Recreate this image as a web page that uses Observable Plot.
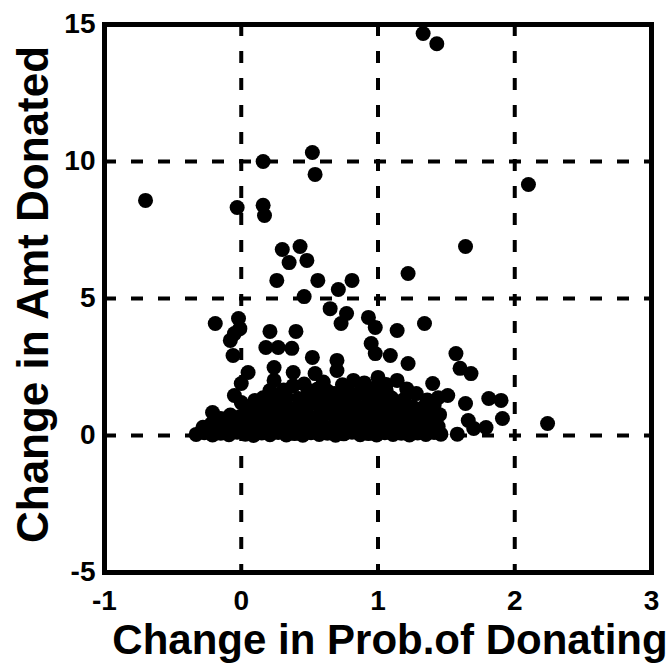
<!DOCTYPE html>
<html>
<head>
<meta charset="utf-8">
<script src="https://cdn.jsdelivr.net/npm/d3@7"></script>
<script src="https://cdn.jsdelivr.net/npm/@observablehq/plot@0.6"></script>
<style>
  html, body { margin: 0; padding: 0; background: white; }
</style>
</head>
<body>
<div id="chart"></div>
<script>
// Tick values and labels
const xTicks = [-1, 0, 1, 2, 3];
const yTicks = [-5, 0, 5, 10, 15];
const xGrid = [0, 1, 2];
const yGrid = [0, 5, 10];
const xTitle = "Change in Prob.of Donating";
const yTitle = "Change in Amt Donated";

// Scattered points [change in prob, change in amount]
const scattered = [
  [-0.70, 8.58], [-0.03, 8.32], [0.16, 8.40], [0.17, 8.03], [0.16, 10.0],
  [0.52, 10.33], [0.54, 9.53], [0.30, 6.79], [0.43, 6.90], [0.35, 6.31],
  [0.48, 6.39], [0.26, 5.66], [0.56, 5.66], [0.81, 5.66], [0.71, 5.33],
  [0.46, 5.07], [0.65, 4.63], [0.77, 4.45], [0.73, 4.09], [0.93, 4.31],
  [-0.19, 4.09], [-0.02, 4.27], [-0.01, 3.90], [0.21, 3.80], [0.40, 3.80],
  [0.98, 3.94], [1.33, 14.67], [1.43, 14.30], [2.10, 9.16], [1.64, 6.90],
  [1.22, 5.91], [1.34, 4.09], [1.14, 3.83], [1.57, 2.99], [1.60, 2.45],
  [1.68, 2.26], [1.64, 1.17], [1.66, 0.55], [1.81, 1.35], [1.90, 1.28],
  [1.91, 0.62], [2.24, 0.44], [1.79, 0.29], [1.70, 0.26], [1.58, 0.05],
  [-0.05, 3.72], [-0.08, 3.47], [-0.06, 2.92], [0.18, 3.21], [0.27, 3.21],
  [0.37, 3.18], [0.52, 2.85], [0.70, 2.74], [0.05, 2.30], [0.24, 2.48],
  [0.24, 2.01], [0.38, 2.30], [0.54, 2.26], [0.38, 1.82], [0.00, 1.90],
  [-0.05, 1.46], [0.00, 1.20], [0.10, 1.28], [0.21, 1.64], [0.49, 1.64],
  [-0.21, 0.84], [-0.15, 0.62], [0.08, 0.66], [-0.28, 0.18],
  [0.95, 3.36], [0.98, 2.99], [1.09, 2.92], [1.22, 2.63], [0.70, 2.37],
  [0.82, 2.01], [1.00, 2.12], [1.14, 2.01], [1.40, 1.90], [1.51, 1.46],
  [1.28, 1.53], [0.68, 1.53], [0.78, 1.64]
];

// Dense cluster near zero
const cluster = [
  [-0.33,0.04],[-0.27,0.10],[-0.21,0.02],[-0.15,0.08],[-0.09,0.03],[-0.03,0.12],[0.03,0.05],[0.09,0.00],
  [0.15,0.09],[0.21,0.03],[0.27,0.11],[0.33,0.02],[0.39,0.07],[0.45,0.01],[0.51,0.10],[0.57,0.04],
  [0.63,0.08],[0.69,0.01],[0.75,0.06],[0.81,0.12],[0.87,0.03],[0.93,0.07],[0.99,0.02],[1.05,0.10],
  [1.11,0.04],[1.17,0.08],[1.23,0.02],[1.29,0.09],[1.35,0.04],[1.41,0.11],[1.46,0.05],
  [-0.28,0.30],[-0.22,0.42],[-0.16,0.33],[-0.09,0.40],[-0.02,0.35],[0.05,0.44],[0.12,0.31],[0.19,0.39],
  [0.26,0.46],[0.33,0.34],[0.40,0.41],[0.47,0.36],[0.54,0.45],[0.61,0.32],[0.68,0.40],[0.75,0.37],
  [0.82,0.44],[0.89,0.33],[0.96,0.41],[1.03,0.36],[1.10,0.45],[1.17,0.34],[1.24,0.40],[1.31,0.37],
  [1.38,0.43],[1.44,0.33],
  [-0.08,0.75],[-0.01,0.68],[0.06,0.78],[0.13,0.70],[0.20,0.76],[0.27,0.67],[0.34,0.79],[0.41,0.71],
  [0.48,0.74],[0.55,0.66],[0.62,0.80],[0.69,0.70],[0.76,0.77],[0.83,0.68],[0.90,0.75],[0.97,0.72],
  [1.04,0.79],[1.11,0.69],[1.18,0.76],[1.25,0.71],[1.32,0.78],[1.39,0.70],[1.45,0.76],
  [0.04,1.00],[0.12,1.08],[0.20,1.02],[0.28,1.10],[0.35,0.99],[0.43,1.06],[0.50,1.12],[0.58,1.01],
  [0.65,1.08],[0.73,1.03],[0.80,1.11],[0.88,1.00],[0.95,1.07],[1.03,1.04],[1.10,1.10],[1.18,0.99],
  [1.25,1.06],[1.33,1.02],[1.41,1.09],
  [0.16,1.38],[0.25,1.32],[0.33,1.40],[0.42,1.35],[0.50,1.42],[0.59,1.33],[0.67,1.39],[0.76,1.36],
  [0.84,1.43],[0.93,1.34],[1.01,1.40],[1.10,1.37],[1.19,1.31],[1.36,1.30],[1.44,1.38],
  [0.31,1.66],[0.56,1.70],[0.63,1.62],[0.88,1.68],[0.97,1.72],[1.06,1.63],[1.21,1.70],
  [0.46,1.88],[0.60,1.95],[0.74,1.85],[0.90,1.92],[1.06,1.86]
];

const data = scattered.concat(cluster).map(([x, y]) => ({x, y}));
const font = "'Liberation Sans', Arial, Helvetica, sans-serif";

const chart = Plot.plot({
  width: 668,
  height: 666,
  marginLeft: 104,
  marginRight: 17,
  marginTop: 24,
  marginBottom: 94,
  style: {fontFamily: font, fontWeight: "bold", fontSize: "28px", color: "black", background: "white"},
  x: {domain: [-1, 3]},
  y: {domain: [-5, 15]},
  marks: [
    Plot.gridX(xGrid, {stroke: "black", strokeOpacity: 1, strokeWidth: 4, strokeDasharray: "12,15"}),
    Plot.gridY(yGrid, {stroke: "black", strokeOpacity: 1, strokeWidth: 4, strokeDasharray: "12,15"}),
    Plot.dot(data, {x: "x", y: "y", r: 7.5, fill: "black", stroke: "none"}),
    Plot.frame({stroke: "black", strokeWidth: 5}),
    Plot.axisX(xTicks, {tickSize: 0, tickPadding: 18, label: null, tickFormat: d => String(d), fontSize: 28, fontWeight: "bold"}),
    Plot.axisY(yTicks, {tickSize: 0, tickPadding: 9, label: null, tickFormat: d => String(d), fontSize: 28, fontWeight: "bold"}),
    Plot.text([xTitle], {text: d => d, frameAnchor: "bottom", textAnchor: "middle", dx: 12, dy: 81, fontSize: 42, fontWeight: "bold", fontFamily: font, fill: "black"}),
    Plot.text([yTitle], {text: d => d, frameAnchor: "left", textAnchor: "middle", dx: -71, dy: -4, rotate: -90, fontSize: 44, fontWeight: "bold", fontFamily: font, fill: "black"})
  ]
});
document.getElementById("chart").appendChild(chart);
</script>
</body>
</html>
